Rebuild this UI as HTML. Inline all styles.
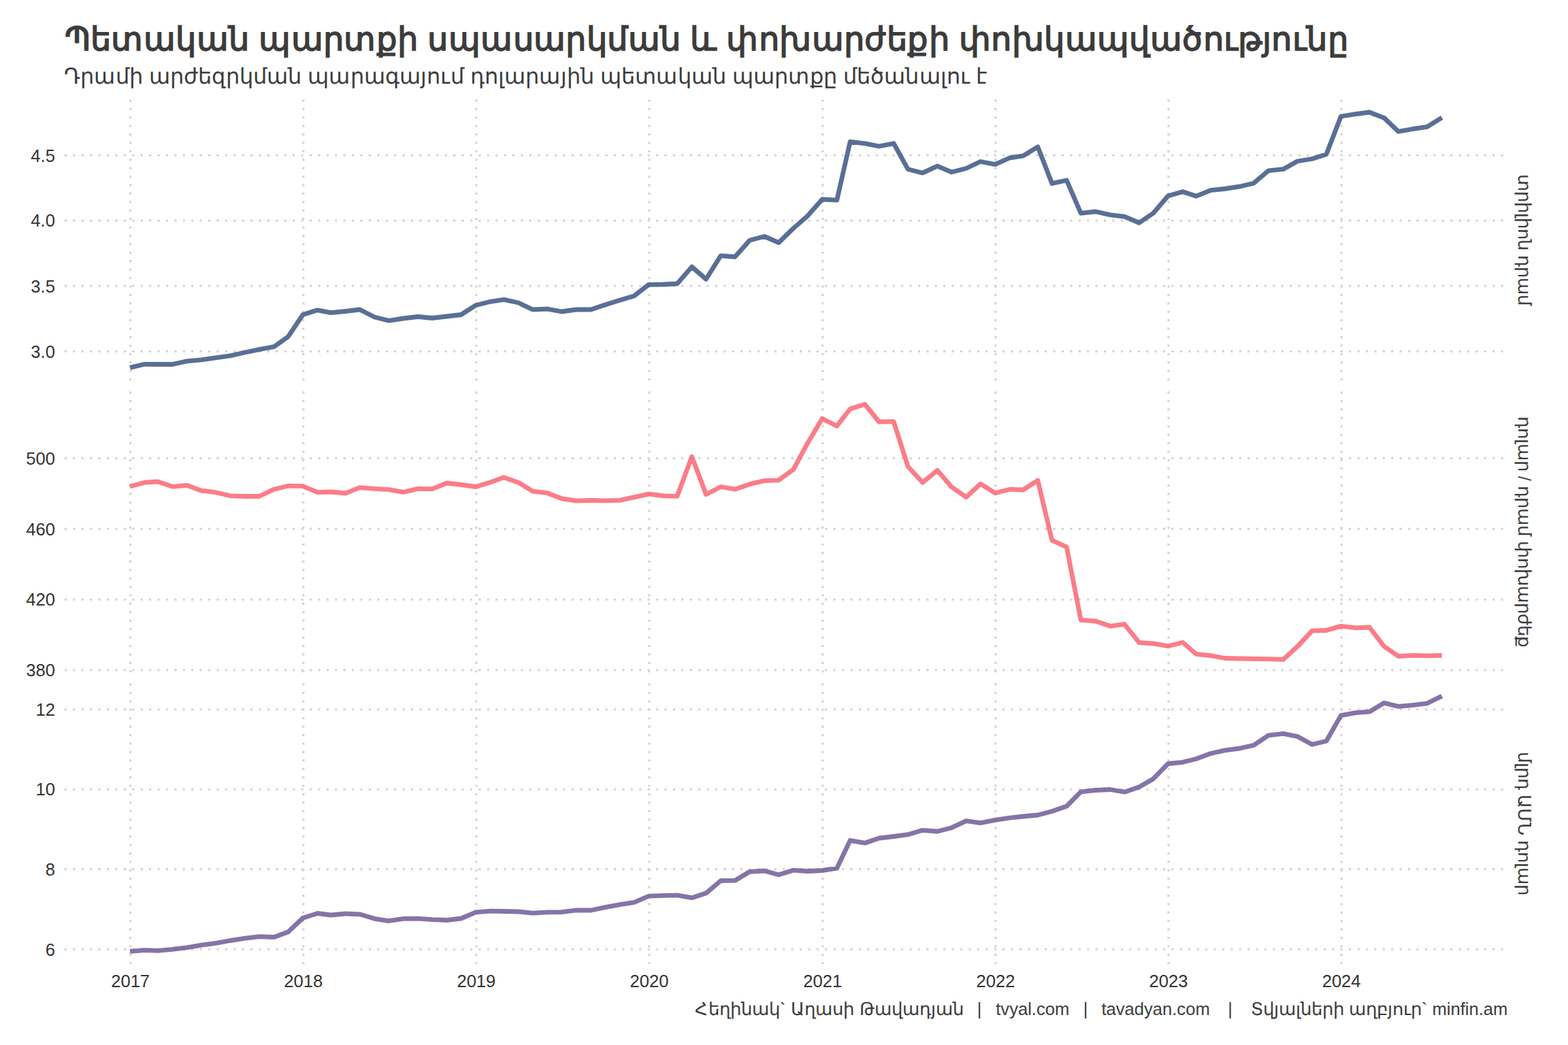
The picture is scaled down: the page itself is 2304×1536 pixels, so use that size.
<!DOCTYPE html>
<html lang="hy">
<head>
<meta charset="utf-8">
<title>Պետական պարտք</title>
<style>
html,body{margin:0;padding:0;background:#fff;}
body{width:2304px;height:1536px;overflow:hidden;}
svg{display:block;font-family:"Liberation Sans",sans-serif;}
</style>
</head>
<body>
<svg width="2304" height="1536" viewBox="0 0 2304 1536">
<rect width="2304" height="1536" fill="#ffffff"/>
<g stroke="#d2d2d2" stroke-width="3.104" stroke-dasharray="3.104 9.312" fill="none">
<line x1="191.65" y1="559.25" x2="191.65" y2="146.20"/>
<line x1="445.76" y1="559.25" x2="445.76" y2="146.20"/>
<line x1="699.88" y1="559.25" x2="699.88" y2="146.20"/>
<line x1="953.99" y1="559.25" x2="953.99" y2="146.20"/>
<line x1="1208.80" y1="559.25" x2="1208.80" y2="146.20"/>
<line x1="1462.91" y1="559.25" x2="1462.91" y2="146.20"/>
<line x1="1717.02" y1="559.25" x2="1717.02" y2="146.20"/>
<line x1="1971.14" y1="559.25" x2="1971.14" y2="146.20"/>
<line x1="94.90" y1="228.30" x2="2215.50" y2="228.30"/>
<line x1="94.90" y1="324.20" x2="2215.50" y2="324.20"/>
<line x1="94.90" y1="420.30" x2="2215.50" y2="420.30"/>
<line x1="94.90" y1="516.50" x2="2215.50" y2="516.50"/>
<line x1="191.65" y1="988.30" x2="191.65" y2="575.25"/>
<line x1="445.76" y1="988.30" x2="445.76" y2="575.25"/>
<line x1="699.88" y1="988.30" x2="699.88" y2="575.25"/>
<line x1="953.99" y1="988.30" x2="953.99" y2="575.25"/>
<line x1="1208.80" y1="988.30" x2="1208.80" y2="575.25"/>
<line x1="1462.91" y1="988.30" x2="1462.91" y2="575.25"/>
<line x1="1717.02" y1="988.30" x2="1717.02" y2="575.25"/>
<line x1="1971.14" y1="988.30" x2="1971.14" y2="575.25"/>
<line x1="94.90" y1="673.55" x2="2215.50" y2="673.55"/>
<line x1="94.90" y1="777.40" x2="2215.50" y2="777.40"/>
<line x1="94.90" y1="881.20" x2="2215.50" y2="881.20"/>
<line x1="94.90" y1="985.05" x2="2215.50" y2="985.05"/>
<line x1="191.65" y1="1417.35" x2="191.65" y2="1004.30"/>
<line x1="445.76" y1="1417.35" x2="445.76" y2="1004.30"/>
<line x1="699.88" y1="1417.35" x2="699.88" y2="1004.30"/>
<line x1="953.99" y1="1417.35" x2="953.99" y2="1004.30"/>
<line x1="1208.80" y1="1417.35" x2="1208.80" y2="1004.30"/>
<line x1="1462.91" y1="1417.35" x2="1462.91" y2="1004.30"/>
<line x1="1717.02" y1="1417.35" x2="1717.02" y2="1004.30"/>
<line x1="1971.14" y1="1417.35" x2="1971.14" y2="1004.30"/>
<line x1="94.90" y1="1042.70" x2="2215.50" y2="1042.70"/>
<line x1="94.90" y1="1160.20" x2="2215.50" y2="1160.20"/>
<line x1="94.90" y1="1277.65" x2="2215.50" y2="1277.65"/>
<line x1="94.90" y1="1395.30" x2="2215.50" y2="1395.30"/>
</g>
<g fill="none" stroke-width="6.83" stroke-linejoin="round" stroke-linecap="butt" stroke-opacity="0.8">
<polyline stroke="#2f4b7c" points="191.0,540.4 212.5,535.3 232.0,535.5 253.6,535.5 274.5,530.8 296.1,528.8 317.0,525.8 338.5,522.8 360.1,518.0 381.0,513.7 402.6,509.7 423.5,494.7 445.1,462.5 466.6,455.8 486.1,459.7 507.7,457.5 528.6,455.0 550.2,466.0 571.1,471.3 592.7,468.0 614.2,465.5 635.1,467.5 656.7,465.0 677.6,462.5 699.2,448.7 720.8,443.3 740.3,440.3 761.8,445.0 782.7,455.0 804.3,454.2 825.2,458.0 846.8,455.0 868.4,455.0 889.2,448.0 910.8,441.3 931.7,435.0 953.3,418.3 974.9,418.0 995.1,417.0 1016.6,392.2 1037.5,410.3 1059.1,375.8 1080.0,377.5 1101.6,353.3 1123.2,347.5 1144.1,356.7 1165.6,335.8 1186.5,317.5 1208.1,293.0 1229.7,294.2 1249.2,208.3 1270.8,210.8 1291.6,215.0 1313.2,210.8 1334.1,248.7 1355.7,254.2 1377.3,244.2 1398.2,253.0 1419.7,247.5 1440.6,237.5 1462.2,241.7 1483.8,232.0 1503.3,229.2 1524.9,215.8 1545.8,269.7 1567.3,265.0 1588.2,313.3 1609.8,311.0 1631.4,315.8 1652.3,318.3 1673.9,327.5 1694.7,313.3 1716.3,288.0 1737.9,281.7 1757.4,288.3 1779.0,279.7 1799.9,277.5 1821.5,274.2 1842.3,269.2 1863.9,250.8 1885.5,248.7 1906.4,237.0 1928.0,233.5 1948.9,226.7 1970.4,171.0 1992.0,167.6 2012.2,165.0 2033.8,173.3 2054.7,193.3 2076.3,189.5 2097.1,186.4 2118.7,172.8"/>
<polyline stroke="#f95d6a" points="191.0,715.0 212.5,709.2 232.0,708.0 253.6,715.3 274.5,713.3 296.1,721.2 317.0,723.7 338.5,728.8 360.1,729.5 381.0,729.5 402.6,719.2 423.5,714.2 445.1,714.7 466.6,723.7 486.1,723.0 507.7,725.0 528.6,716.7 550.2,718.3 571.1,719.7 592.7,723.3 614.2,718.3 635.1,718.7 656.7,710.0 677.6,712.5 699.2,715.5 720.8,708.7 740.3,701.7 761.8,709.2 782.7,722.2 804.3,724.7 825.2,732.8 846.8,736.2 868.4,735.5 889.2,735.8 910.8,735.4 931.7,730.8 953.3,726.2 974.9,728.8 995.1,729.3 1016.6,671.2 1037.5,726.8 1059.1,715.5 1080.0,719.2 1101.6,711.7 1123.2,706.7 1144.1,705.8 1165.6,690.3 1186.5,651.7 1208.1,615.3 1229.7,626.2 1249.2,601.0 1270.8,594.2 1291.6,620.0 1313.2,619.7 1334.1,685.8 1355.7,709.2 1377.3,691.3 1398.2,715.8 1419.7,730.8 1440.6,711.2 1462.2,724.7 1483.8,719.2 1503.3,720.0 1524.9,706.2 1545.8,794.2 1567.3,804.2 1588.2,911.3 1609.8,913.0 1631.4,920.3 1652.3,917.5 1673.9,944.7 1694.7,945.8 1716.3,949.7 1737.9,944.2 1757.4,961.3 1779.0,963.7 1799.9,967.5 1821.5,968.0 1842.3,968.3 1863.9,968.7 1885.5,969.4 1906.4,950.3 1928.0,927.2 1948.9,926.5 1970.4,920.4 1992.0,922.8 2012.2,922.0 2033.8,950.1 2054.7,964.5 2076.3,963.4 2097.1,963.8 2118.7,963.3"/>
<polyline stroke="#665191" points="191.0,1398.4 212.5,1396.7 232.0,1397.3 253.6,1395.3 274.5,1392.8 296.1,1389.2 317.0,1386.3 338.5,1382.5 360.1,1379.2 381.0,1376.7 402.6,1377.5 423.5,1369.7 445.1,1349.2 466.6,1342.5 486.1,1345.0 507.7,1343.0 528.6,1343.8 550.2,1350.3 571.1,1353.7 592.7,1350.3 614.2,1350.2 635.1,1351.7 656.7,1352.5 677.6,1350.0 699.2,1340.8 720.8,1339.2 740.3,1339.5 761.8,1340.0 782.7,1342.2 804.3,1340.8 825.2,1340.7 846.8,1337.8 868.4,1338.0 889.2,1333.7 910.8,1329.6 931.7,1326.3 953.3,1317.2 974.9,1316.3 995.1,1315.8 1016.6,1319.7 1037.5,1312.8 1059.1,1294.5 1080.0,1294.2 1101.6,1281.3 1123.2,1280.0 1144.1,1285.8 1165.6,1279.2 1186.5,1280.5 1208.1,1279.5 1229.7,1276.2 1249.2,1235.3 1270.8,1239.2 1291.6,1232.0 1313.2,1229.5 1334.1,1226.7 1355.7,1220.3 1377.3,1222.0 1398.2,1216.7 1419.7,1206.7 1440.6,1209.7 1462.2,1205.3 1483.8,1202.2 1503.3,1200.0 1524.9,1198.0 1545.8,1192.5 1567.3,1185.0 1588.2,1163.8 1609.8,1161.5 1631.4,1160.5 1652.3,1164.2 1673.9,1156.7 1694.7,1144.7 1716.3,1122.5 1737.9,1120.3 1757.4,1115.5 1779.0,1107.5 1799.9,1102.8 1821.5,1100.0 1842.3,1095.3 1863.9,1080.8 1885.5,1078.3 1906.4,1082.5 1928.0,1094.3 1948.9,1089.3 1970.4,1051.6 1992.0,1047.6 2012.2,1046.2 2033.8,1033.2 2054.7,1038.4 2076.3,1036.4 2097.1,1033.8 2118.7,1023.1"/>
</g>
<g font-size="25.6" fill="#333333" text-anchor="end">
<text x="80.9" y="237.5">4.5</text>
<text x="80.9" y="333.4">4.0</text>
<text x="80.9" y="429.5">3.5</text>
<text x="80.9" y="525.7">3.0</text>
<text x="80.9" y="682.8">500</text>
<text x="80.9" y="786.6">460</text>
<text x="80.9" y="890.4">420</text>
<text x="80.9" y="994.2">380</text>
<text x="80.9" y="1051.9">12</text>
<text x="80.9" y="1169.4">10</text>
<text x="80.9" y="1286.9">8</text>
<text x="80.9" y="1404.5">6</text>
</g>
<g font-size="25.6" fill="#333333" text-anchor="middle">
<text x="191.65" y="1450.8">2017</text>
<text x="445.76" y="1450.8">2018</text>
<text x="699.88" y="1450.8">2019</text>
<text x="953.99" y="1450.8">2020</text>
<text x="1208.80" y="1450.8">2021</text>
<text x="1462.91" y="1450.8">2022</text>
<text x="1717.02" y="1450.8">2023</text>
<text x="1971.14" y="1450.8">2024</text>
</g>
<g font-size="25.6" fill="#3c3c3c" text-anchor="middle">
<text transform="translate(2230.5 352.73) rotate(90)">տրիլիոն դրամ</text>
<text transform="translate(2230.5 781.77) rotate(90)">դոլար / դրամ փոխարժեք</text>
<text transform="translate(2230.5 1210.82) rotate(90)">մլրդ ԱՄՆ դոլար</text>
</g>
<text x="94.5" y="73.6" font-size="48" font-weight="bold" fill="#3c3c3c" textLength="1886" lengthAdjust="spacing">Պետական պարտքի սպասարկման և փոխարժեքի փոխկապվածությունը</text>
<text x="94.2" y="123" font-size="32" fill="#3c3c3c" textLength="1356" lengthAdjust="spacing">Դրամի արժեզրկման պարագայում դոլարային պետական պարտքը մեծանալու է</text>
<text y="1491.7" font-size="25.6" fill="#3c3c3c"><tspan x="1021.4" text-anchor="start" textLength="395.0" lengthAdjust="spacing">Հեղինակ` Աղասի Թավադյան</tspan><tspan x="1439.2" text-anchor="middle">|</tspan><tspan x="1517.3" text-anchor="middle">tvyal.com</tspan><tspan x="1595.2" text-anchor="middle">|</tspan><tspan x="1698.05" text-anchor="middle">tavadyan.com</tspan><tspan x="1807.5" text-anchor="middle">|</tspan><tspan x="2215.4" text-anchor="end">Տվյալների աղբյուր` minfin.am</tspan></text>
</svg>
</body>
</html>
